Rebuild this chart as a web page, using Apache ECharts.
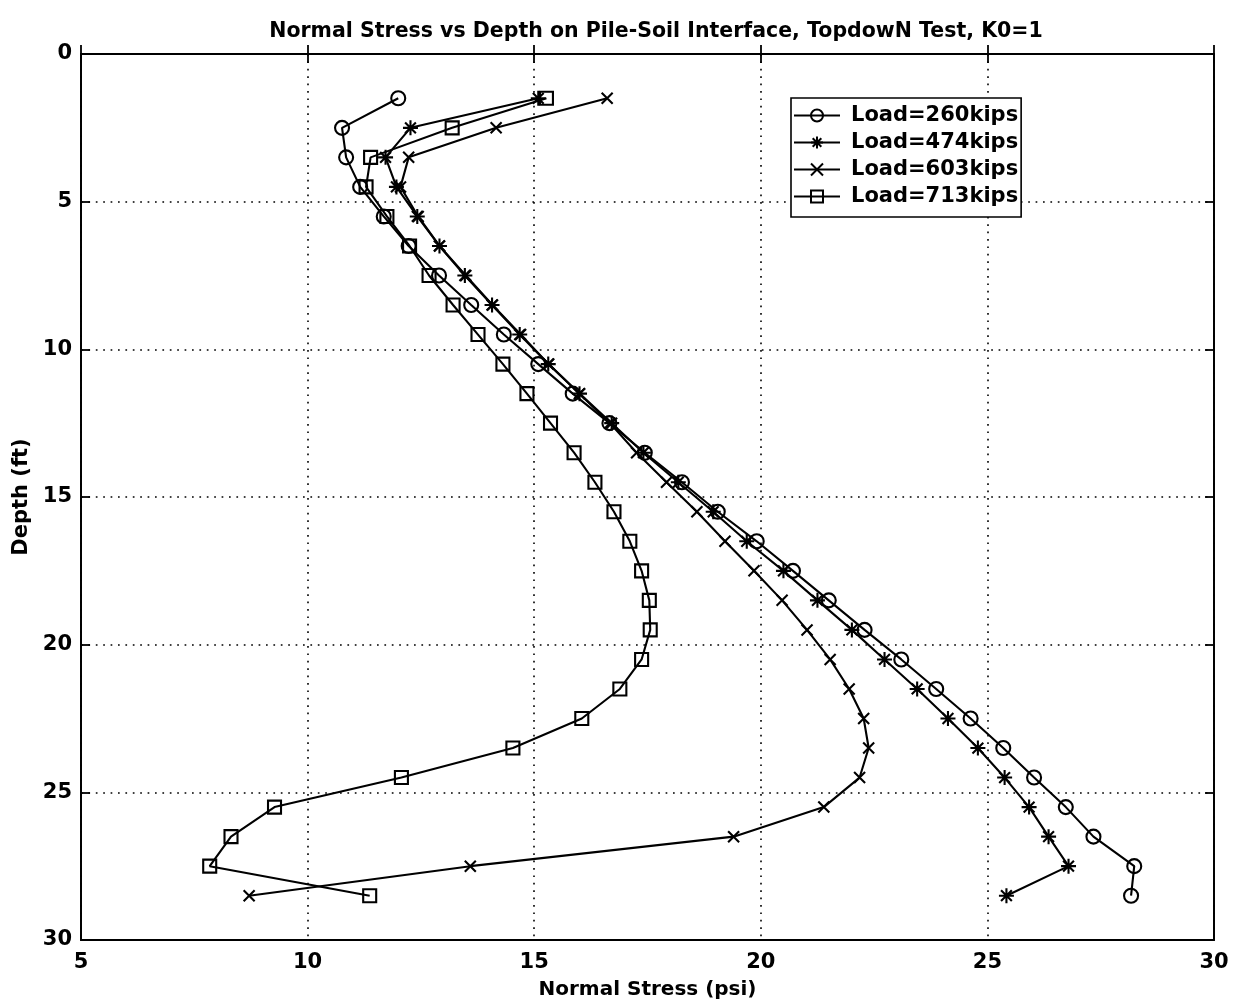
<!DOCTYPE html>
<html>
<head>
<meta charset="utf-8">
<title>Normal Stress vs Depth</title>
<script src="https://cdn.jsdelivr.net/npm/echarts@6/dist/echarts.min.js"></script>
<style>
  html, body { margin: 0; padding: 0; background: #fff; }
  #chart { width: 1234px; height: 1008px; }
</style>
</head>
<body>
<div id="chart"></div>
<script>
// Depth of each measurement point along the pile (ft)
const depth = [1.5, 2.5, 3.5, 4.5, 5.5, 6.5, 7.5, 8.5, 9.5, 10.5, 11.5, 12.5, 13.5, 14.5,
               15.5, 16.5, 17.5, 18.5, 19.5, 20.5, 21.5, 22.5, 23.5, 24.5, 25.5, 26.5, 27.5, 28.5];

// Normal stress (psi) on the pile-soil interface for each load step
const load260 = [12.0, 10.76, 10.85, 11.16, 11.68, 12.23, 12.9, 13.61, 14.33, 15.09, 15.85, 16.66, 17.44, 18.26,
                 19.05, 19.91, 20.71, 21.5, 22.29, 23.1, 23.87, 24.63, 25.35, 26.03, 26.73, 27.34, 28.24, 28.17];
const load474 = [15.09, 12.27, 11.72, 11.96, 12.42, 12.91, 13.47, 14.07, 14.68, 15.31, 16.0, 16.71, 17.41, 18.18,
                 18.95, 19.69, 20.5, 21.25, 22.01, 22.73, 23.45, 24.13, 24.79, 25.38, 25.92, 26.35, 26.79, 25.42];
const load603 = [16.61, 14.16, 12.23, 12.05, 12.44, 12.91, 13.49, 14.08, 14.7, 15.32, 16.0, 16.67, 17.26, 17.92,
                 18.59, 19.21, 19.85, 20.47, 21.02, 21.53, 21.95, 22.27, 22.38, 22.18, 21.39, 19.4, 13.59, 8.71];
const load713 = [15.27, 13.19, 11.39, 11.29, 11.75, 12.25, 12.68, 13.21, 13.76, 14.31, 14.84, 15.36, 15.88, 16.34,
                 16.76, 17.11, 17.37, 17.54, 17.56, 17.37, 16.89, 16.05, 14.53, 12.07, 9.27, 8.31, 7.84, 11.37];

const seriesNames = ['Load=260kips', 'Load=474kips', 'Load=603kips', 'Load=713kips'];

const xTicks = [5, 10, 15, 20, 25, 30];
const yTicks = [0, 5, 10, 15, 20, 25, 30];

const FONT = 'DejaVu Sans';

// Marker shapes drawn as stroked outlines
const SYM_ASTERISK = 'path://M0,-1L0,1M-1,0L1,0M-0.72,-0.72L0.72,0.72M-0.72,0.72L0.72,-0.72';
const SYM_CROSS = 'path://M-1,-1L1,1M-1,1L1,-1';

function pairs(values) {
  return values.map((v, i) => [v, depth[i]]);
}

function lineSeries(name, values, symbol, size) {
  return {
    name: name,
    type: 'line',
    data: pairs(values),
    symbol: symbol,
    symbolSize: size,
    showAllSymbol: true,
    lineStyle: { color: '#000', width: 2.1 },
    itemStyle: { color: 'rgba(0,0,0,0)', borderColor: '#000', borderWidth: 2.1 },
    emphasis: { disabled: true },
    animation: false,
    z: 3
  };
}

const dotted = { color: '#000', width: 1.6, type: [1.7, 5.7] };

const chart = echarts.init(document.getElementById('chart'), null, { renderer: 'canvas' });

chart.setOption({
  backgroundColor: '#fff',
  animation: false,
  title: {
    text: 'Normal Stress vs Depth on Pile-Soil Interface, TopdowN Test, K0=1',
    left: 651,
    textAlign: 'center',
    top: 16,
    textStyle: { fontFamily: FONT, fontWeight: 'bold', fontSize: 20.5, color: '#000' }
  },
  grid: {
    left: 81, right: 20, top: 54, bottom: 68,
    show: true, borderColor: '#000', borderWidth: 1.8, backgroundColor: 'transparent'
  },
  legend: {
    orient: 'vertical',
    left: 791,
    top: 98,
    data: seriesNames,
    itemWidth: 46,
    itemHeight: 15,
    itemGap: 6,
    padding: [7, 3, 10, 2],
    backgroundColor: '#fff',
    borderColor: '#000',
    borderWidth: 1.6,
    borderRadius: 0,
    selectedMode: false,
    textStyle: { fontFamily: FONT, fontWeight: 'bold', fontSize: 21, color: '#000', padding: [0, 0, 0, 6] }
  },
  xAxis: [
    {
      type: 'value', position: 'bottom',
      min: 5, max: 30, interval: 5,
      name: 'Normal Stress (psi)',
      nameLocation: 'middle', nameGap: 40,
      nameTextStyle: { fontFamily: FONT, fontWeight: 'bold', fontSize: 20, color: '#000' },
      axisLine: { show: true, lineStyle: { color: '#000', width: 1.8 } },
      axisTick: { show: true, inside: true, length: 9, lineStyle: { color: '#000', width: 1.8 } },
      axisLabel: {
        margin: 12, fontFamily: FONT, fontWeight: 'bold', fontSize: 21, color: '#000',
        formatter: v => (xTicks.indexOf(v) >= 0 ? String(v) : '')
      },
      splitLine: { show: true, lineStyle: dotted }
    },
    {
      type: 'value', position: 'top',
      min: 5, max: 30, interval: 5,
      axisLine: { show: true, lineStyle: { color: '#000', width: 1.8 } },
      axisTick: { show: true, inside: true, length: 9, lineStyle: { color: '#000', width: 1.8 } },
      axisLabel: { show: false },
      splitLine: { show: false }
    }
  ],
  yAxis: [
    {
      type: 'value', position: 'left', inverse: true,
      min: 0, max: 30, interval: 5,
      name: 'Depth (ft)',
      nameLocation: 'middle', nameGap: 47, nameRotate: 90,
      nameTextStyle: { fontFamily: FONT, fontWeight: 'bold', fontSize: 21, color: '#000' },
      axisLine: { show: true, lineStyle: { color: '#000', width: 1.8 } },
      axisTick: { show: true, inside: true, length: 9, lineStyle: { color: '#000', width: 1.8 } },
      axisLabel: {
        margin: 9, fontFamily: FONT, fontWeight: 'bold', fontSize: 21, color: '#000',
        formatter: v => (yTicks.indexOf(v) >= 0 ? String(v) : '')
      },
      splitLine: { show: true, lineStyle: dotted }
    },
    {
      type: 'value', position: 'right', inverse: true,
      min: 0, max: 30, interval: 5,
      axisLine: { show: true, lineStyle: { color: '#000', width: 1.8 } },
      axisTick: { show: true, inside: true, length: 9, lineStyle: { color: '#000', width: 1.8 } },
      axisLabel: { show: false },
      splitLine: { show: false }
    }
  ],
  series: [
    lineSeries(seriesNames[0], load260, 'circle', 14),
    lineSeries(seriesNames[1], load474, SYM_ASTERISK, 15),
    lineSeries(seriesNames[2], load603, SYM_CROSS, 11),
    lineSeries(seriesNames[3], load713, 'rect', 13)
  ]
});
</script>
</body>
</html>
